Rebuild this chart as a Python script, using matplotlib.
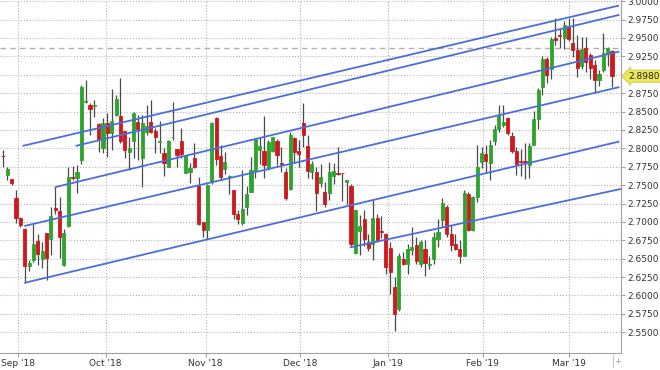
import numpy as np
import matplotlib
matplotlib.use("Agg")
import matplotlib.pyplot as plt

# Daily OHLC (Sep 2018 - Mar 2019)
opens = [2.7900, 2.7636, 2.7577, 2.7318, 2.7055, 2.6909, 2.6396, 2.6487, 2.6736, 2.6496,
         2.6850, 2.6768, 2.7191, 2.7150, 2.6409, 2.6941, 2.7614, 2.7591, 2.7841, 2.8623,
         2.8591, 2.8568, 2.8327, 2.8009, 2.8341, 2.8205, 2.8453, 2.8439, 2.8239, 2.7955,
         2.8103, 2.8361, 2.7864, 2.8226, 2.8361, 2.8236, 2.8086, 2.7932, 2.7742, 2.8155,
         2.7986, 2.8099, 2.7668, 2.7682, 2.7864, 2.7488, 2.7000, 2.6884, 2.7543, 2.8407,
         2.7893, 2.7725, 2.7616, 2.7430, 2.7102, 2.6984, 2.7202, 2.7407, 2.7702, 2.7975,
         2.7966, 2.7739, 2.7966, 2.8102, 2.7802, 2.7680, 2.7452, 2.8134, 2.7961, 2.8348,
         2.8030, 2.7680, 2.7682, 2.7532, 2.7409, 2.7395, 2.7627, 2.7668, 2.7668, 2.7536,
         2.7491, 2.6577, 2.6877, 2.7045, 2.6723, 2.6696, 2.7059, 2.6877, 2.6841, 2.6650,
         2.6114, 2.5818, 2.6500, 2.6432, 2.6614, 2.6682, 2.6430, 2.6634, 2.6415, 2.6498,
         2.6771, 2.7030, 2.7202, 2.6839, 2.6702, 2.6634, 2.6543, 2.7384, 2.6884, 2.7339,
         2.7816, 2.7920, 2.7802, 2.8102, 2.8257, 2.8316, 2.8407, 2.8166, 2.7966, 2.7834,
         2.7825, 2.7775, 2.8048, 2.8402, 2.8834, 2.9220, 2.9075, 2.9493, 2.9534, 2.9493,
         2.9666, 2.9425, 2.9334, 2.9120, 2.9357, 2.9266, 2.9134, 2.8925, 2.9061, 2.9295,
         2.9320]
highs = [2.7977, 2.7750, 2.7582, 2.7432, 2.7068, 2.6912, 2.6477, 2.6968, 2.6841, 2.6727,
         2.6855, 2.7196, 2.7477, 2.7341, 2.6909, 2.7750, 2.7759, 2.7773, 2.8864, 2.8923,
         2.8614, 2.8650, 2.8341, 2.8409, 2.8477, 2.8805, 2.8723, 2.8955, 2.8241, 2.8159,
         2.8495, 2.8453, 2.8453, 2.8588, 2.8657, 2.8273, 2.8377, 2.7999, 2.8114, 2.8634,
         2.7990, 2.8273, 2.7909, 2.7795, 2.8068, 2.7614, 2.7005, 2.7520, 2.8361, 2.8430,
         2.8043, 2.7952, 2.7634, 2.7435, 2.7157, 2.7710, 2.7484, 2.7884, 2.8134, 2.8157,
         2.8439, 2.8111, 2.8157, 2.8120, 2.8011, 2.7739, 2.8225, 2.8157, 2.8111, 2.8611,
         2.8180, 2.7830, 2.7741, 2.7782, 2.7545, 2.7818, 2.7805, 2.8014, 2.7670, 2.7575,
         2.7514, 2.7180, 2.7091, 2.7168, 2.6841, 2.7295, 2.7114, 2.7077, 2.6850, 2.6727,
         2.6250, 2.6577, 2.6591, 2.6705, 2.6932, 2.6795, 2.6748, 2.6748, 2.6543, 2.6861,
         2.7043, 2.7330, 2.7225, 2.6952, 2.6839, 2.6748, 2.7430, 2.7407, 2.7348, 2.8043,
         2.8020, 2.8043, 2.8111, 2.8316, 2.8589, 2.8589, 2.8430, 2.8225, 2.8020, 2.7993,
         2.8075, 2.8075, 2.8502, 2.8820, 2.9257, 2.9243, 2.9516, 2.9766, 2.9620, 2.9730,
         2.9775, 2.9766, 2.9539, 2.9516, 2.9516, 2.9289, 2.9198, 2.9061, 2.9561, 2.9380,
         2.9334]
lows = [2.7750, 2.7568, 2.7500, 2.6986, 2.6932, 2.6173, 2.6327, 2.6455, 2.6410, 2.6377,
        2.6214, 2.6545, 2.7114, 2.6509, 2.6405, 2.6936, 2.7568, 2.7386, 2.7780, 2.8614,
        2.8182, 2.8432, 2.7955, 2.7932, 2.7877, 2.7977, 2.8445, 2.8077, 2.7864, 2.7705,
        2.7864, 2.7841, 2.7478, 2.8180, 2.8205, 2.7932, 2.7932, 2.7623, 2.7740, 2.8114,
        2.7742, 2.7864, 2.7659, 2.7523, 2.7727, 2.6955, 2.6795, 2.6770, 2.7520, 2.7770,
        2.7575, 2.7657, 2.7384, 2.7043, 2.6966, 2.6961, 2.7089, 2.7400, 2.7602, 2.7784,
        2.7602, 2.7711, 2.7952, 2.7770, 2.7680, 2.7302, 2.7439, 2.7816, 2.7748, 2.8020,
        2.7602, 2.7589, 2.7150, 2.7477, 2.7196, 2.7295, 2.7514, 2.7636, 2.7286, 2.7241,
        2.6668, 2.6568, 2.6545, 2.6668, 2.6605, 2.6477, 2.6727, 2.6786, 2.6296, 2.6023,
        2.5523, 2.5796, 2.6410, 2.6296, 2.6545, 2.6432, 2.6393, 2.6270, 2.6361, 2.6430,
        2.6657, 2.6930, 2.6793, 2.6602, 2.6620, 2.6439, 2.6530, 2.6880, 2.6875, 2.7270,
        2.7739, 2.7666, 2.7575, 2.8043, 2.8225, 2.8293, 2.8180, 2.7930, 2.7634, 2.7630,
        2.7584, 2.7593, 2.8175, 2.8261, 2.8725, 2.8893, 2.8948, 2.9402, 2.9366, 2.9343,
        2.9457, 2.9243, 2.8970, 2.9075, 2.9039, 2.8939, 2.8757, 2.8848, 2.9039, 2.9118,
        2.8834]
closes = [2.7890, 2.7714, 2.7523, 2.7059, 2.6955, 2.6396, 2.6441, 2.6705, 2.6568, 2.6600,
          2.6514, 2.7082, 2.7159, 2.6795, 2.6850, 2.7614, 2.7591, 2.7682, 2.8829, 2.8645,
          2.8536, 2.8582, 2.8127, 2.8341, 2.8205, 2.8377, 2.8668, 2.8093, 2.7977, 2.8005,
          2.8484, 2.8258, 2.8339, 2.8303, 2.8226, 2.8159, 2.8100, 2.7805, 2.8099, 2.8160,
          2.7914, 2.7923, 2.7895, 2.7727, 2.7742, 2.6972, 2.6886, 2.7498, 2.8339, 2.7861,
          2.7611, 2.7816, 2.7620, 2.7111, 2.7043, 2.7175, 2.7384, 2.7702, 2.8120, 2.8030,
          2.7770, 2.8089, 2.8148, 2.7907, 2.7784, 2.7330, 2.8180, 2.7952, 2.7916, 2.8180,
          2.7693, 2.7793, 2.7386, 2.7614, 2.7241, 2.7673, 2.7695, 2.7655, 2.7664, 2.7568,
          2.6696, 2.7168, 2.6950, 2.6773, 2.6650, 2.7055, 2.6750, 2.6859, 2.6386, 2.6318,
          2.5750, 2.6532, 2.6432, 2.6636, 2.6659, 2.6468, 2.6725, 2.6439, 2.6430, 2.6793,
          2.6861, 2.7257, 2.6839, 2.6680, 2.6634, 2.6543, 2.7393, 2.6893, 2.7339, 2.7748,
          2.7939, 2.7829, 2.8043, 2.8257, 2.8452, 2.8361, 2.8202, 2.7966, 2.7793, 2.7811,
          2.7816, 2.8029, 2.8402, 2.8789, 2.9211, 2.8993, 2.9484, 2.9470, 2.9525, 2.9675,
          2.9484, 2.9334, 2.9093, 2.9348, 2.9175, 2.9093, 2.8934, 2.9016, 2.9289, 2.9362,
          2.8980]

# month boundaries (in candle index units) and labels
month_pos = [3.5, 23.6, 46.6, 68.3, 88.5, 110.3, 130.1]
month_labels = ["Sep '18", "Oct '18", "Nov '18", "Dec '18", "Jan '19", "Feb '19", "Mar '19"]

# drawn channel lines: start index/price, end index/price
line_x0 = [4.7, 16.9, 12.1, 5.1, 5.1, 79.9]
line_y0 = [2.8035, 2.8035, 2.7474, 2.6947, 2.6174, 2.6655]
line_x1 = [141.4, 141.5, 141.5, 141.5, 141.5, 142.0]
line_y1 = [2.9937, 2.9811, 2.9312, 2.8829, 2.8090, 2.7447]

ref_level = 2.9367
last_price = closes[-1]

green = '#2da52d'
red = '#cc1a1f'

fig = plt.figure(figsize=(6.6, 3.7), dpi=100)
ax = fig.add_axes([0, 0.046, 0.9405, 0.954])

x = np.arange(len(opens))
o = np.array(opens)
c = np.array(closes)
up = c >= o
colors = np.where(up, green, red)

# wicks then bodies
ax.vlines(x, lows, highs, color='#4a4a4a', lw=0.9, zorder=2)
ax.bar(x, np.abs(c - o), bottom=np.minimum(o, c), width=0.72,
       color=colors, edgecolor=colors, lw=0.6, zorder=3)

# channel lines
for i in range(len(line_x0)):
    ax.plot([line_x0[i], line_x1[i]], [line_y0[i], line_y1[i]],
            color='#4a6fdc', lw=1.3, zorder=4)

ax.axhline(ref_level, color='#b0b0b0', lw=1, ls=(0, (4, 3)), zorder=1)

# axes look
ax.set_xlim(-0.69, 142.0)
ax.set_ylim(2.5219, 3.0015)
yt = np.round(np.arange(2.55, 3.0001, 0.025), 4)
ax.set_yticks(yt)
ax.set_yticklabels(['' if abs(v - 2.9) < 1e-6 else '%.4f' % v for v in yt])
ax.set_xticks(month_pos)
ax.set_xticklabels(month_labels)
ax.yaxis.tick_right()
ax.grid(True, ls=':', color='#b5b5b5', lw=0.8)
ax.set_axisbelow(True)
for s in ['left', 'top']:
    ax.spines[s].set_visible(False)
for s in ['right', 'bottom']:
    ax.spines[s].set_color('#a0a0a0')
ax.tick_params(axis='both', labelsize=6.5, colors='#a0a0a0', labelcolor='#333333',
               length=3, width=0.8)
ax.tick_params(axis='y', pad=2)
ax.tick_params(axis='x', pad=1.5)

# last price tag on the right axis
ax.text(1.012, last_price, '%.4f' % last_price, transform=ax.get_yaxis_transform(),
        fontsize=6.5, color='#222222', va='center', ha='left',
        bbox=dict(boxstyle='larrow,pad=0.18', fc='#ece85a', ec='#cfc948', lw=0.6))

# little widget at the bottom right
fig.add_artist(plt.Line2D([613 / 660, 613 / 660], [3 / 370, 15 / 370], color='#c8c8c8', lw=0.8))
fig.text(617.5 / 660, 8.5 / 370, '+', fontsize=6, color='#999999', ha='center', va='center')

fig.savefig('out.png', dpi=100)
